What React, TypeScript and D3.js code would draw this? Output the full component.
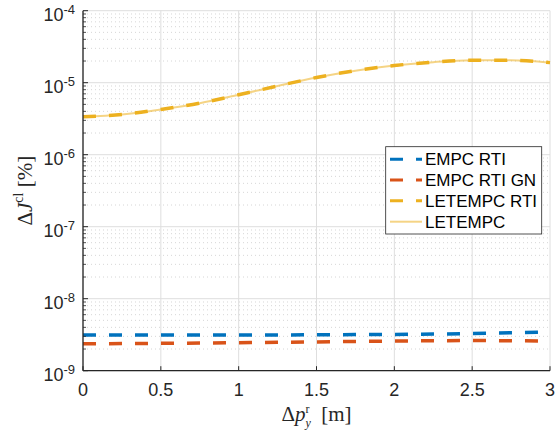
import React from "react";
import * as d3 from "d3";

const xValues = [0, 0.25, 0.5, 0.75, 1.0, 1.25, 1.5, 1.75, 2.0, 2.25, 2.5, 2.75, 3.0];
const empcRti = [3.13e-9, 3.13e-9, 3.13e-9, 3.13e-9, 3.13e-9, 3.14e-9, 3.15e-9, 3.17e-9, 3.19e-9, 3.23e-9, 3.28e-9, 3.36e-9, 3.47e-9];
const empcRtiGn = [2.37e-9, 2.38e-9, 2.40e-9, 2.42e-9, 2.45e-9, 2.48e-9, 2.51e-9, 2.55e-9, 2.58e-9, 2.61e-9, 2.62e-9, 2.61e-9, 2.58e-9];
const letempcRti = [3.37e-6, 3.62e-6, 4.25e-6, 5.2e-6, 6.8e-6, 9.0e-6, 1.18e-5, 1.47e-5, 1.73e-5, 1.93e-5, 2.05e-5, 2.05e-5, 1.9e-5];
const letempc = [3.37e-6, 3.62e-6, 4.25e-6, 5.2e-6, 6.8e-6, 9.0e-6, 1.18e-5, 1.47e-5, 1.73e-5, 1.93e-5, 2.05e-5, 2.05e-5, 1.9e-5];

const xTicks = [0, 0.5, 1, 1.5, 2, 2.5, 3];
const xTickLabels = ["0", "0.5", "1", "1.5", "2", "2.5", "3"];
const yExponents = [-9, -8, -7, -6, -5, -4];
const legendLabels = ["EMPC RTI", "EMPC RTI GN", "LETEMPC RTI", "LETEMPC"];

const W = 560, H = 432;
const L = 83, R = 550, T = 10.7, B = 370.7;
const AX = "#262626";
const SANS = "'Liberation Sans', Arial, Helvetica, sans-serif";
const SERIF = "'Liberation Serif', 'Times New Roman', serif";

export default function App() {
  const x = d3.scaleLinear().domain([0, 3]).range([L, R]);
  const y = d3.scaleLog().domain([1e-9, 1e-4]).range([B, T]);

  const line = (vals: number[]) =>
    d3.line<number>()
      .x((_, i) => x(xValues[i]))
      .y((v) => y(v))
      .curve(d3.curveMonotoneX)(vals) || "";

  const minor: number[] = [];
  for (let e = -9; e < -4; e++) for (let k = 2; k <= 9; k++) minor.push(k * Math.pow(10, e));

  const series = [
    { vals: empcRti, color: "#0072BD", dash: "13,13", w: 3.5, op: 1 },
    { vals: empcRtiGn, color: "#D95319", dash: "13,13", w: 3.5, op: 1 },
    { vals: letempcRti, color: "#EDB120", dash: "13,13", w: 3.5, op: 1 },
    { vals: letempc, color: "#EDB120", dash: "", w: 2, op: 0.55 },
  ];

  const legX = 385.7, legY = 146.7, legW = 156, legH = 87.3;
  const rowY = [159.3, 180, 200.7, 221.7];

  return (
    <svg width={W} height={H} style={{ position: "absolute", left: 0, top: 0, background: "#fff" }}>
      <rect x={0} y={0} width={W} height={H} fill="#fff" />
      {minor.map((v, i) => (
        <line key={"mg" + i} x1={L} x2={R} y1={y(v)} y2={y(v)} stroke="#c4c4c4" strokeWidth={0.7} strokeDasharray="1,3" />
      ))}
      {yExponents.map((e) => (
        <line key={"yg" + e} x1={L} x2={R} y1={y(Math.pow(10, e))} y2={y(Math.pow(10, e))} stroke="#dedede" strokeWidth={1} />
      ))}
      {xTicks.map((t) => (
        <line key={"xg" + t} x1={x(t)} x2={x(t)} y1={T} y2={B} stroke="#dedede" strokeWidth={1} />
      ))}
      {series.map((s, i) => (
        <path key={"s" + i} d={line(s.vals)} fill="none" stroke={s.color} strokeWidth={s.w}
          strokeDasharray={s.dash || undefined} strokeOpacity={s.op} />
      ))}
      <line x1={L} x2={L} y1={T} y2={B} stroke={AX} strokeWidth={1.3} />
      <line x1={L} x2={R} y1={B} y2={B} stroke={AX} strokeWidth={1.3} />
      {xTicks.map((t, i) => (
        <g key={"xt" + t}>
          <line x1={x(t)} x2={x(t)} y1={B} y2={B - 4.5} stroke={AX} strokeWidth={1} />
          <text x={x(t)} y={395.5} textAnchor="middle" fontFamily={SANS} fontSize={18} fill={AX}>{xTickLabels[i]}</text>
        </g>
      ))}
      {minor.map((v, i) => (
        <line key={"ymt" + i} x1={L} x2={L + 3} y1={y(v)} y2={y(v)} stroke={AX} strokeWidth={0.8} />
      ))}
      {yExponents.map((e) => (
        <g key={"yt" + e}>
          <line x1={L} x2={L + 5} y1={y(Math.pow(10, e))} y2={y(Math.pow(10, e))} stroke={AX} strokeWidth={1} />
          <text x={75} y={y(Math.pow(10, e)) + 10.3} textAnchor="end" fontFamily={SANS} fontSize={18} fill={AX}>
            <tspan>10</tspan>
            <tspan dy={-7.5} fontSize={13}>{String(e)}</tspan>
          </text>
        </g>
      ))}
      <text x={(L + R) / 2} y={421} textAnchor="middle" fontFamily={SERIF} fontSize={21} fill={AX}>
        <tspan>Δ</tspan>
        <tspan fontStyle="italic">p</tspan>
        <tspan dy={-8.5} fontSize={12}>r</tspan>
        <tspan dx={-4} dy={14} fontSize={12} fontStyle="italic">y</tspan>
        <tspan dy={-5.5}>{"\u00a0\u00a0[m]"}</tspan>
      </text>
      <text transform={`translate(32,${(T + B) / 2}) rotate(-90)`} textAnchor="middle" fontFamily={SERIF} fontSize={21} fill={AX}>
        <tspan>Δ</tspan>
        <tspan fontStyle="italic">J</tspan>
        <tspan dy={-9} fontSize={14}>cl</tspan>
        <tspan dy={9}>{"\u00a0[%]"}</tspan>
      </text>
      <rect x={legX} y={legY} width={legW} height={legH} fill="#fff" stroke={AX} strokeWidth={0.8} />
      {legendLabels.map((lab, i) => (
        <g key={"lg" + i}>
          <line x1={390} x2={422} y1={rowY[i]} y2={rowY[i]} stroke={series[i].color} strokeWidth={i === 3 ? 2 : 3}
            strokeOpacity={series[i].op} strokeDasharray={series[i].dash || undefined} />
          <text x={425} y={rowY[i]} dy="0.35em" fontFamily={SANS} fontSize={17} fill="#000">{lab}</text>
        </g>
      ))}
    </svg>
  );
}
